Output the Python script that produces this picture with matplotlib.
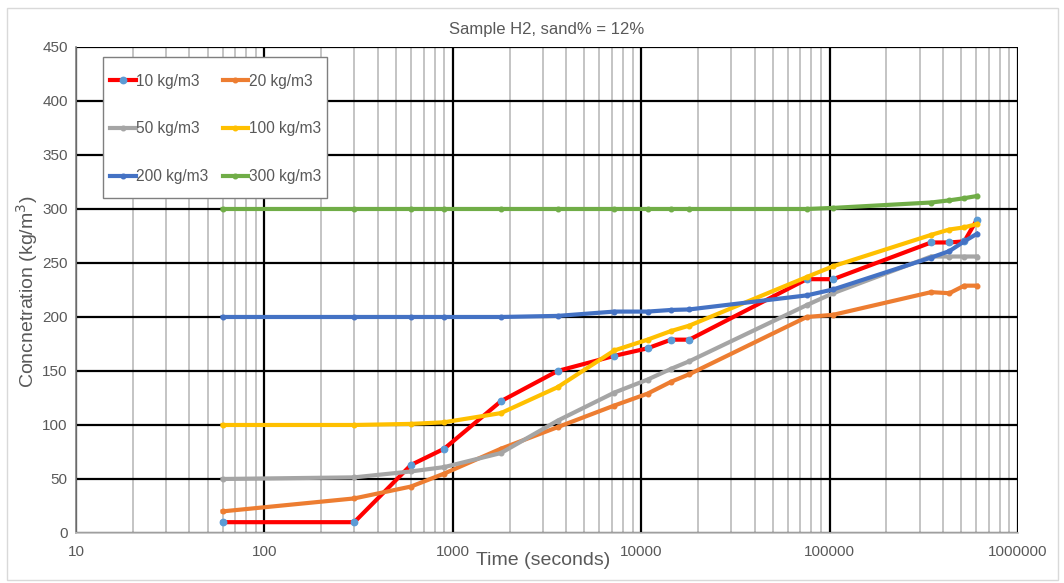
import numpy as np
import matplotlib.pyplot as plt
from matplotlib.ticker import LogLocator, NullFormatter
from matplotlib.patches import Rectangle

plt.rcParams['font.family'] = ['Liberation Sans', 'DejaVu Sans']

# time in seconds
t = [60, 300, 600, 900, 1800, 3600, 7200, 10800, 14400, 18000,
     75600, 104400, 345600, 432000, 518400, 604800]

c10 = [10, 10, 63, 78, 122, 150, 164, 171, 179, 179, 235, 235, 269, 269, 270, 290]
c20 = [20, 32, 43, 55, 78, 98, 118, 129, 140, 147, 200, 202, 223, 222, 229, 229]
c50 = [50, 51.5, 57, 61, 74, 104, 130, 142, 152, 159, 211, 222, 256, 256, 256, 256]
c100 = [100, 100, 101, 102.5, 111, 135, 169, 179, 187, 192, 237, 247, 276, 281, 283, 286]
c200 = [200, 200, 200, 200, 200, 201, 205, 205, 206.5, 207, 220, 225.5, 255, 261, 270, 277]
c300 = [300, 300, 300, 300, 300, 300, 300, 300, 300, 300, 300, 301, 306, 308, 310, 312]

labels = ['10 kg/m3', '20 kg/m3', '50 kg/m3', '100 kg/m3', '200 kg/m3', '300 kg/m3']
series = [c10, c20, c50, c100, c200, c300]
colors = ['#FF0000', '#ED7D31', '#A5A5A5', '#FFC000', '#4472C4', '#70AD47']

fig = plt.figure(figsize=(10.64, 5.83), dpi=100)
ax = fig.add_axes([0.0714, 0.0858, 0.8854, 0.8336])

# outer chart border (Excel style)
fig.patches.append(Rectangle((0.0066, 0.005), 0.988, 0.981, transform=fig.transFigure,
                             fill=False, edgecolor='#D9D9D9', linewidth=1))

lines = []
for vals, lab, col in zip(series, labels, colors):
    if lab == '10 kg/m3':
        ln, = ax.plot(t, vals, color=col, lw=3, marker='o', ms=4.6,
                      markerfacecolor='#5B9BD5', markeredgecolor='#5B9BD5', label=lab, zorder=3)
    else:
        ln, = ax.plot(t, vals, color=col, lw=3, marker='o', ms=3.3,
                      markerfacecolor=col, markeredgecolor=col, label=lab, zorder=3)
    lines.append(ln)

ax.set_xscale('log')
ax.set_xlim(10, 1000000)
ax.set_ylim(0, 450)
ax.set_yticks(np.arange(0, 451, 50))
ax.set_xticks([10, 100, 1000, 10000, 100000, 1000000])
ax.set_xticklabels(['10', '100', '1000', '10000', '100000', '1000000'])
ax.xaxis.set_minor_locator(LogLocator(base=10, subs=np.arange(2, 10), numticks=20))
ax.xaxis.set_minor_formatter(NullFormatter())

ax.grid(True, which='major', color='black', lw=1.6, zorder=1)
ax.grid(True, which='minor', axis='x', color='#BFBFBF', lw=1.3, zorder=0)
ax.tick_params(which='both', length=0, colors='#595959', labelsize=11)
ax.tick_params(axis='x', pad=9)
ax.tick_params(axis='y', pad=6)

for s in ['top', 'right']:
    ax.spines[s].set_visible(False)
ax.spines['left'].set_color('#808080')
ax.spines['left'].set_linewidth(1.2)
ax.spines['bottom'].set_color('#BFBFBF')
ax.spines['bottom'].set_linewidth(1.2)

ax.set_title('Sample H2, sand% = 12%', color='#595959', fontsize=12,
             family=['Liberation Sans Narrow', 'Liberation Sans', 'DejaVu Sans'], pad=9)
fig.text(0.510, 0.038, 'Time (seconds)', ha='center', va='center',
         fontsize=14, color='#595959')
fig.text(0.025, 0.50, 'Concnetration (kg/m$^3$)', ha='center', va='center',
         rotation=90, fontsize=14, color='#595959')

# legend box drawn by hand, entries filled row by row like Excel
ax.add_patch(Rectangle((0.0287, 0.689), 0.2378, 0.290, transform=ax.transAxes,
                       facecolor='white', edgecolor='#7F7F7F', lw=1.0, zorder=4))
order = [0, 2, 4, 1, 3, 5]
leg = ax.legend([lines[i] for i in order], [labels[i] for i in order],
                loc='upper left', ncol=2, bbox_to_anchor=(0.036, 0.945),
                fontsize=11.2, frameon=False, handlelength=1.65,
                handletextpad=0.05, labelspacing=2.1, columnspacing=0.9,
                borderpad=0, borderaxespad=0)
for txt in leg.get_texts():
    txt.set_color('#595959')
leg.set_zorder(5)

fig.savefig('out.png', dpi=100)
